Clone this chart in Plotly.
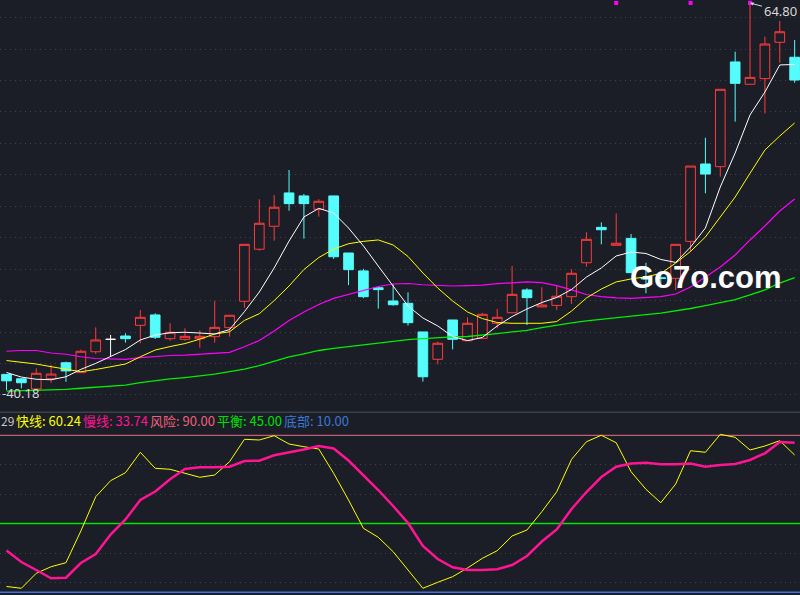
import plotly.graph_objects as go
from plotly.subplots import make_subplots

# daily bars, oldest first
opens = [41.18, 40.90, 40.25, 40.91, 41.92, 41.29, 42.62, 43.41, 43.62, 44.30,
         44.96, 43.45, 43.41, 43.45, 43.58, 44.15, 45.83, 49.14, 50.60, 52.72,
         52.53, 51.68, 52.53, 48.90, 47.76, 46.69, 45.85, 45.70, 43.88, 42.14,
         44.64, 43.32, 43.47, 44.43, 45.10, 46.55, 45.47, 45.57, 46.12, 48.28,
         50.53, 49.39, 49.83, 47.34, 47.33, 47.29, 49.64, 54.56, 54.39, 61.05,
         59.63, 59.99, 62.30, 61.35]
highs = [41.20, 40.92, 41.57, 41.78, 41.99, 42.75, 44.17, 43.69, 43.79, 45.27,
         45.07, 44.43, 44.11, 43.98, 45.85, 44.94, 49.45, 52.32, 52.59, 54.18,
         52.65, 52.32, 52.53, 48.90, 47.89, 46.69, 46.91, 46.40, 43.88, 43.26,
         44.64, 44.81, 45.10, 45.34, 48.07, 46.66, 46.72, 46.80, 47.86, 50.22,
         50.85, 51.42, 50.11, 48.28, 47.61, 49.45, 54.43, 56.23, 59.31, 61.70,
         64.80, 62.66, 63.66, 62.45]
lows = [40.18, 40.29, 40.20, 40.65, 40.71, 41.29, 42.48, 42.35, 43.20, 43.16,
        43.43, 43.32, 43.32, 42.88, 43.20, 43.58, 45.42, 49.05, 49.68, 51.59,
        49.81, 51.21, 48.52, 46.86, 46.02, 45.36, 45.55, 44.28, 40.72, 41.82,
        42.77, 43.32, 43.47, 44.11, 45.10, 44.32, 45.47, 45.27, 45.66, 48.03,
        49.45, 49.39, 47.65, 46.34, 46.72, 46.55, 48.98, 52.70, 53.75, 57.25,
        59.63, 57.78, 61.00, 59.73]
closes = [40.77, 40.65, 41.25, 41.20, 41.40, 42.65, 43.37, 43.41, 43.45, 44.81,
          43.54, 43.86, 43.60, 43.60, 44.17, 44.94, 49.45, 50.79, 51.81, 52.04,
          52.04, 52.19, 48.66, 47.84, 46.12, 46.57, 45.61, 44.47, 41.03, 43.16,
          43.41, 44.43, 45.00, 44.81, 46.27, 46.06, 45.59, 46.15, 47.61, 49.77,
          50.38, 49.52, 47.65, 47.25, 47.28, 49.45, 54.43, 53.92, 59.31, 59.69,
          60.07, 62.19, 62.97, 59.90]

# moving averages
ma_white = [41.30, 41.01, 40.87, 40.84, 41.03, 41.50, 41.88, 42.30, 42.76, 43.37,
            43.68, 43.83, 43.86, 43.81, 43.75, 44.03, 45.17, 46.42, 47.95, 49.66,
            51.19, 51.74, 51.44, 50.49, 49.35, 48.07, 46.80, 45.53, 44.77, 44.26,
            43.59, 43.33, 43.53, 44.26, 44.86, 45.34, 45.75, 46.07, 46.58, 47.37,
            47.95, 48.71, 48.96, 48.87, 48.49, 48.30, 49.28, 50.49, 53.10, 55.26,
            57.68, 59.14, 60.86, 60.89]
ma_yellow = [42.06, 41.94, 41.84, 41.67, 41.49, 41.35, 41.49, 41.65, 41.84, 42.30,
             42.73, 42.95, 43.14, 43.42, 43.75, 43.89, 44.61, 45.04, 45.87, 46.80,
             47.85, 48.61, 49.15, 49.49, 49.64, 49.73, 49.41, 48.68, 47.63, 46.67,
             45.85, 45.15, 44.73, 44.48, 44.43, 44.43, 44.43, 44.54, 45.21, 46.04,
             46.61, 47.06, 47.25, 47.39, 47.60, 48.26, 49.00, 49.92, 51.19, 52.46,
             53.97, 55.45, 56.34, 57.17]
ma_magenta = [42.65, 42.70, 42.70, 42.54, 42.46, 42.30, 42.19, 42.14, 42.13, 42.24,
              42.32, 42.38, 42.41, 42.48, 42.54, 42.58, 42.94, 43.33, 43.94, 44.61,
              45.15, 45.62, 46.01, 46.26, 46.48, 46.77, 46.93, 46.96, 46.88, 46.83,
              46.80, 46.83, 46.86, 46.95, 47.02, 47.06, 47.02, 46.83, 46.55, 46.26,
              46.12, 46.04, 46.02, 46.07, 46.12, 46.29, 46.74, 47.37, 48.01, 48.77,
              49.73, 50.62, 51.57, 52.33]
ma_green = [40.12, 40.14, 40.15, 40.19, 40.23, 40.30, 40.37, 40.44, 40.50, 40.65,
            40.78, 40.89, 40.98, 41.08, 41.20, 41.35, 41.52, 41.74, 42.03, 42.30,
            42.49, 42.70, 42.84, 42.95, 43.07, 43.18, 43.29, 43.39, 43.46, 43.52,
            43.56, 43.59, 43.67, 43.77, 43.88, 43.98, 44.16, 44.32, 44.45, 44.58,
            44.67, 44.80, 44.89, 44.98, 45.08, 45.21, 45.37, 45.56, 45.75, 45.94,
            46.23, 46.55, 46.99, 47.34]

# lower indicator
fast = [12.96, 12.04, 19.68, 23.04, 25.08, 41.24, 58.71, 66.87, 70.94, 81.34,
        73.18, 72.68, 70.64, 68.60, 69.77, 76.55, 87.96, 87.61, 89.80, 85.57,
        84.19, 83.02, 70.64, 57.03, 42.61, 38.03, 30.69, 21.36, 12.04, 15.10,
        17.95, 22.38, 27.32, 31.20, 38.69, 41.75, 51.07, 61.26, 77.77, 86.74,
        90.00, 86.23, 71.45, 62.48, 55.66, 65.18, 82.15, 81.34, 90.50, 88.98,
        82.51, 84.55, 87.25, 79.96]
slow = [31.35, 25.44, 21.36, 17.13, 17.44, 24.93, 29.52, 39.45, 47.10, 57.03,
        61.36, 67.58, 72.83, 73.69, 73.69, 74.00, 76.90, 77.06, 79.81, 81.24,
        82.76, 84.55, 83.27, 77.16, 69.77, 62.13, 53.97, 45.31, 33.59, 26.97,
        22.74, 21.36, 21.36, 21.77, 23.91, 28.50, 35.89, 42.00, 52.45, 61.11,
        68.75, 74.00, 75.68, 76.04, 75.22, 75.22, 75.63, 74.00, 74.87, 75.38,
        77.41, 80.83, 86.59, 86.23]
risk, balance, bottom = 90, 45, 10

doji_idx = [7]
signal_idx = [41, 46, 50]
label_names = ["快线", "慢线", "风险", "平衡", "底部"]
label_values = [60.24, 33.74, 90.00, 45.00, 10.00]

BG = "#1b1e26"
RED = "#ff3b3b"
CYAN = "#54fcfc"
GRID = "#3d424c"
label_colors = ["#ffff00", "#ff1493", "#f0607e", "#00e000", "#3a78d8"]

n = len(opens)
normal = [i for i in range(n) if i not in doji_idx]

fig = make_subplots(rows=2, cols=1, shared_xaxes=True)

fig.add_trace(go.Candlestick(
    x=normal,
    open=[opens[i] for i in normal], high=[highs[i] for i in normal],
    low=[lows[i] for i in normal], close=[closes[i] for i in normal],
    increasing=dict(line=dict(color=RED, width=1), fillcolor=BG),
    decreasing=dict(line=dict(color=CYAN, width=1), fillcolor=CYAN),
    whiskerwidth=0, showlegend=False, hoverinfo="skip"), row=1, col=1)

fig.add_trace(go.Candlestick(
    x=doji_idx,
    open=[opens[i] for i in doji_idx], high=[highs[i] for i in doji_idx],
    low=[lows[i] for i in doji_idx], close=[closes[i] for i in doji_idx],
    increasing=dict(line=dict(color="white", width=1), fillcolor="white"),
    decreasing=dict(line=dict(color="white", width=1), fillcolor="white"),
    whiskerwidth=0, showlegend=False, hoverinfo="skip"), row=1, col=1)

for vals, col, w in [(ma_green, "#00ee00", 1.3), (ma_magenta, "#ff00ff", 1.2),
                     (ma_yellow, "#ffff00", 1), (ma_white, "#ffffff", 1)]:
    fig.add_trace(go.Scatter(x=list(range(n)), y=vals, mode="lines",
                             line=dict(color=col, width=w), showlegend=False,
                             hoverinfo="skip"), row=1, col=1)

# signal dots on top edge
fig.add_trace(go.Scatter(x=signal_idx, y=[max(highs)] * len(signal_idx), mode="markers",
                         marker=dict(symbol="square", size=4, color="#ff00ff"),
                         showlegend=False, hoverinfo="skip", cliponaxis=False), row=1, col=1)

fig.add_trace(go.Scatter(x=list(range(n)), y=fast, mode="lines",
                         line=dict(color="#ffff00", width=1), showlegend=False,
                         hoverinfo="skip"), row=2, col=1)
fig.add_trace(go.Scatter(x=list(range(n)), y=slow, mode="lines",
                         line=dict(color="#ff1493", width=2.5), showlegend=False,
                         hoverinfo="skip"), row=2, col=1)

for lvl, col, w in [(risk, "#e8708c", 1), (balance, "#00e600", 1.5), (bottom, "#3a78d8", 1.5)]:
    fig.add_shape(type="line", xref="x2 domain", yref="y2", x0=0, x1=1, y0=lvl, y1=lvl,
                  line=dict(color=col, width=w), layer="below")

# separator under price panel
fig.add_shape(type="line", xref="paper", yref="paper", x0=0, x1=1, y0=0.3071, y1=0.3071,
              line=dict(color="#3a414c", width=1.5))

hi_i = highs.index(max(highs))
lo_i = lows.index(min(lows))
fig.add_annotation(x=hi_i, y=highs[hi_i], xref="x", yref="y", text=f"{highs[hi_i]:.2f}",
                   showarrow=True, arrowhead=2, arrowsize=0.7, arrowwidth=1,
                   arrowcolor="#d8d8d8", ax=30, ay=8,
                   font=dict(color="#d8d8d8", size=13, family="Noto Sans"))
fig.add_annotation(x=0, xref="paper", xanchor="left", y=lows[lo_i], yref="y", yshift=-3,
                   text=f"-{lows[lo_i]:.2f}", showarrow=False,
                   font=dict(color="#d8d8d8", size=13, family="Noto Sans"))

# indicator label strip
strip_y = 1 - 420.7 / 595
fig.add_annotation(x=0, xref="paper", y=strip_y, yref="paper", xanchor="left", yanchor="middle",
                   text="29", showarrow=False, xshift=-1,
                   font=dict(color="#c8c8c8", size=12, family="Noto Sans CJK SC"))
for j, (name, val) in enumerate(zip(label_names, label_values)):
    fig.add_annotation(x=(15 + 67 * j) / 800, xref="paper", y=strip_y, yref="paper",
                       xanchor="left", yanchor="middle", text=f"{name}: {val:.2f}",
                       showarrow=False, xshift=-1,
                       font=dict(color=label_colors[j], size=13, family="Noto Sans CJK SC"))

# watermark
fig.add_annotation(x=706 / 800, xref="paper", y=1 - 277 / 595, yref="paper",
                   xanchor="center", yanchor="middle",
                   text="<b>Go7o.com</b>", showarrow=False,
                   font=dict(color="white", size=31, family="Liberation Sans"))

dot = "1px,4px"
fig.update_layout(
    width=800, height=595, margin=dict(l=0, r=0, t=0, b=0),
    paper_bgcolor=BG, plot_bgcolor=BG, showlegend=False,
    boxgap=0.35, boxgroupgap=0,
    xaxis=dict(range=[-0.437, 53.36], showgrid=False, showticklabels=False,
               zeroline=False, rangeslider=dict(visible=False)),
    xaxis2=dict(range=[-0.437, 53.36], showgrid=False, showticklabels=False,
                zeroline=False),
    yaxis=dict(domain=[0.3092, 1], range=[38.85, 64.99], tick0=39.87, dtick=2,
               gridcolor=GRID, griddash=dot, showticklabels=False, zeroline=False),
    yaxis2=dict(domain=[0, 0.2773], range=[8.62, 92.70], tickvals=[15, 30, 60, 75],
                gridcolor=GRID, griddash=dot, showticklabels=False, zeroline=False),
)

fig.write_html("out.html", config={"displayModeBar": False},
               post_script="document.body.style.margin='0';")
